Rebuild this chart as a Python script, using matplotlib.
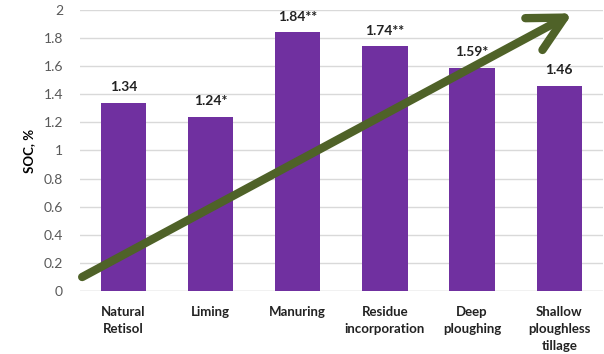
import matplotlib.pyplot as plt
from matplotlib.patches import FancyArrowPatch

plt.rcParams['font.family'] = ['Lato', 'DejaVu Sans']

# SOC content by soil management practice
practices = ['Natural\nRetisol', 'Liming', 'Manuring', 'Residue\nincorporation',
             'Deep\nploughing', 'Shallow\nploughless\ntillage']
soc = [1.34, 1.24, 1.84, 1.74, 1.59, 1.46]
marks = ['', '*', '**', '**', '*', '']
yticks = [0, 0.2, 0.4, 0.6, 0.8, 1, 1.2, 1.4, 1.6, 1.8, 2]

fig = plt.figure(figsize=(6.04, 3.54), dpi=100)
ax = fig.add_axes([0.132, 0.178, 0.866, 0.794])

x = range(len(practices))
ax.bar(x, soc, width=0.52, color='#7030A0', zorder=2)
for i, (v, m) in enumerate(zip(soc, marks)):
    ax.annotate(f"{v:.2f}{m}", (i, v), xytext=(0, 7), textcoords='offset points',
                ha='center', va='bottom', fontsize=10, fontweight='bold', color='#222222')

ax.set_xlim(-0.5, len(practices) - 0.5)
ax.set_ylim(0, 2)
ax.set_yticks(yticks)
ax.set_yticklabels([f"{t:g}" for t in yticks], fontsize=10, color='#595959')
ax.set_xticks(list(x))
ax.set_xticklabels(practices, fontsize=9.5, fontweight='bold', color='#222222',
                   linespacing=1.5)
ax.tick_params(axis='both', length=0)
ax.tick_params(axis='x', pad=11)
ax.tick_params(axis='y', pad=12)
ax.set_ylabel('SOC, %', fontsize=9.5, fontweight='bold', labelpad=6)
ax.yaxis.grid(True, color='#d9d9d9', linewidth=1, zorder=0)
for s in ax.spines.values():
    s.set_visible(False)
ax.axhline(0, color='#d9d9d9', linewidth=1, zorder=1)

# rising trend arrow across the bars
arrow = FancyArrowPatch((-0.5, 0.09), (5.18, 1.985), arrowstyle='->,head_length=1.25,head_width=0.65',
                        mutation_scale=20, color='#4F6228', linewidth=6,
                        capstyle='round', joinstyle='round', zorder=3, clip_on=False)
ax.add_patch(arrow)

fig.savefig('out.png', dpi=100)
